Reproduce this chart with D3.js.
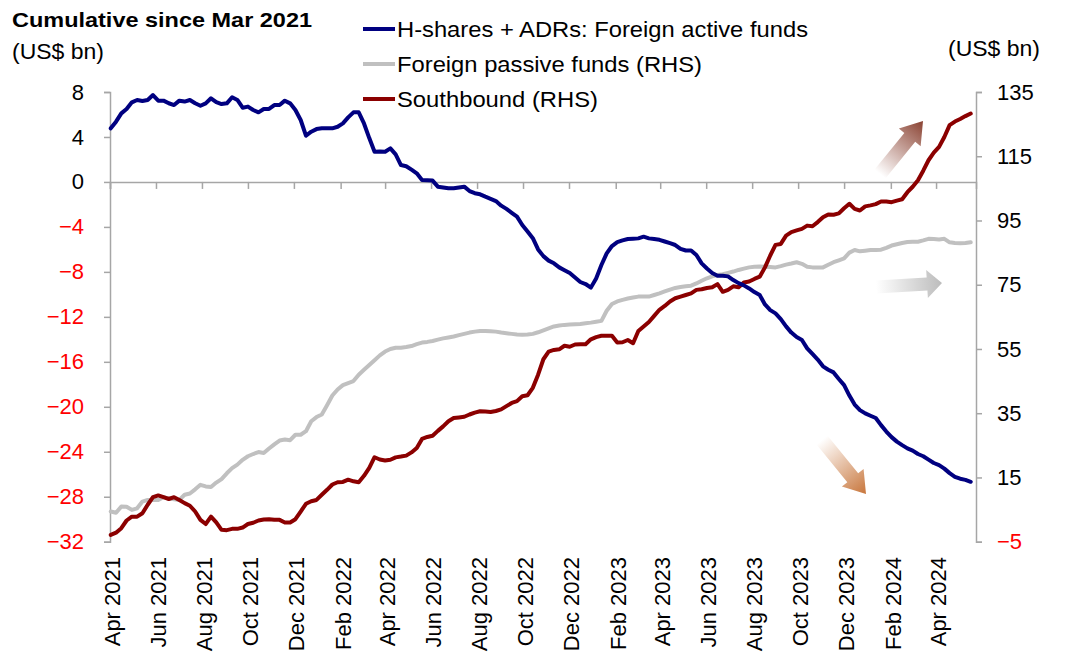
<!DOCTYPE html>
<html>
<head>
<meta charset="utf-8">
<script src="https://cdn.jsdelivr.net/npm/d3@7"></script>
<style>
  html, body { margin: 0; padding: 0; background: #fff; }
  svg { display: block; font-family: "Liberation Sans", Arial, sans-serif; }
</style>
</head>
<body>
<svg id="chart" width="1080" height="663"></svg>
<script>
// ---------------- DATA ----------------
const dates = [
"2021-04-02","2021-04-09","2021-04-16","2021-04-23","2021-04-30","2021-05-07","2021-05-14","2021-05-21","2021-05-28","2021-06-04",
"2021-06-11","2021-06-18","2021-06-25","2021-07-02","2021-07-09","2021-07-16","2021-07-23","2021-07-30","2021-08-06","2021-08-13",
"2021-08-20","2021-08-27","2021-09-03","2021-09-10","2021-09-17","2021-09-24","2021-10-01","2021-10-08","2021-10-15","2021-10-22",
"2021-10-29","2021-11-05","2021-11-12","2021-11-19","2021-11-26","2021-12-03","2021-12-10","2021-12-17","2021-12-24","2021-12-31",
"2022-01-07","2022-01-14","2022-01-21","2022-01-28","2022-02-04","2022-02-11","2022-02-18","2022-02-25","2022-03-04","2022-03-11",
"2022-03-18","2022-03-25","2022-04-01","2022-04-08","2022-04-15","2022-04-22","2022-04-29","2022-05-06","2022-05-13","2022-05-20",
"2022-05-27","2022-06-03","2022-06-10","2022-06-17","2022-06-24","2022-07-01","2022-07-08","2022-07-15","2022-07-22","2022-07-29",
"2022-08-05","2022-08-12","2022-08-19","2022-08-26","2022-09-02","2022-09-09","2022-09-16","2022-09-23","2022-09-30","2022-10-07",
"2022-10-14","2022-10-21","2022-10-28","2022-11-04","2022-11-11","2022-11-18","2022-11-25","2022-12-02","2022-12-09","2022-12-16",
"2022-12-23","2022-12-30","2023-01-06","2023-01-13","2023-01-20","2023-01-27","2023-02-03","2023-02-10","2023-02-17","2023-02-24",
"2023-03-03","2023-03-10","2023-03-17","2023-03-24","2023-03-31","2023-04-07","2023-04-14","2023-04-21","2023-04-28","2023-05-05",
"2023-05-12","2023-05-19","2023-05-26","2023-06-02","2023-06-09","2023-06-16","2023-06-23","2023-06-30","2023-07-07","2023-07-14",
"2023-07-21","2023-07-28","2023-08-04","2023-08-11","2023-08-18","2023-08-25","2023-09-01","2023-09-08","2023-09-15","2023-09-22",
"2023-09-29","2023-10-06","2023-10-13","2023-10-20","2023-10-27","2023-11-03","2023-11-10","2023-11-17","2023-11-24","2023-12-01",
"2023-12-08","2023-12-15","2023-12-22","2023-12-29","2024-01-05","2024-01-12","2024-01-19","2024-01-26","2024-02-02","2024-02-09",
"2024-02-16","2024-02-23","2024-03-01","2024-03-08","2024-03-15","2024-03-22","2024-03-29","2024-04-05","2024-04-12","2024-04-19",
"2024-04-26","2024-05-03","2024-05-10","2024-05-17"
];

// H-shares + ADRs: Foreign active funds (LHS, US$ bn)
const activeFunds = [
4.77,5.36,6.1,6.49,7.08,7.29,7.2,7.29,7.73,7.23,
7.23,7.0,6.84,7.23,7.15,7.29,7.0,6.78,6.99,7.44,
7.1,6.93,6.99,7.53,7.29,6.6,6.7,6.4,6.19,6.49,
6.49,6.84,6.84,7.23,6.99,6.4,5.51,4.11,4.47,4.7,
4.77,4.77,4.77,4.91,5.21,5.74,6.19,6.19,5.2,3.9,
2.69,2.7,2.69,2.99,2.45,1.5,1.4,1.1,0.77,0.18,
0.15,0.12,-0.42,-0.5,-0.57,-0.57,-0.5,-0.42,-0.81,-1.0,
-1.1,-1.31,-1.5,-1.7,-2.11,-2.4,-2.75,-3.09,-3.83,-4.4,
-5.0,-6.0,-6.6,-7.0,-7.24,-7.6,-7.85,-8.1,-8.5,-8.9,
-9.08,-9.4,-8.58,-7.39,-6.35,-5.7,-5.35,-5.2,-5.08,-5.05,
-5.02,-4.87,-5.02,-5.08,-5.15,-5.3,-5.45,-5.61,-5.95,-6.1,
-6.1,-6.5,-7.24,-7.7,-8.1,-8.34,-8.35,-8.4,-8.73,-9.0,
-9.2,-9.47,-9.8,-10.06,-10.9,-11.4,-11.69,-12.2,-12.85,-13.4,
-13.8,-14.06,-14.8,-15.3,-15.8,-16.4,-16.7,-16.94,-17.53,-18.07,
-19.0,-19.8,-20.3,-20.59,-20.8,-21.0,-21.63,-22.2,-22.7,-23.1,
-23.41,-23.7,-23.9,-24.2,-24.4,-24.7,-25.0,-25.19,-25.5,-25.9,
-26.23,-26.4,-26.5,-26.67
];

// Foreign passive funds (RHS, US$ bn)
const passiveFunds = [
4.4,4.0,5.94,5.9,4.9,5.4,7.5,8.0,8.0,8.0,
8.85,8.5,8.2,8.0,9.6,10.0,11.3,12.7,12.2,12.0,
13.4,14.5,16.3,17.9,19.0,20.5,21.6,22.3,22.9,22.6,
24.0,25.3,26.5,26.8,26.6,28.3,28.3,29.4,32.5,33.8,
34.6,37.5,40.5,42.4,43.75,44.4,45.0,47.0,48.5,50.0,
51.5,53.0,54.2,55.0,55.4,55.4,55.6,55.9,56.5,57.0,
57.2,57.5,57.9,58.3,58.6,58.9,59.3,59.7,60.1,60.4,
60.6,60.6,60.5,60.4,60.1,59.9,59.7,59.5,59.4,59.5,
59.7,60.2,60.8,61.4,62.0,62.3,62.5,62.6,62.7,62.8,
63.0,63.2,63.5,63.75,66.9,69.0,69.8,70.3,70.7,71.0,
71.3,71.3,71.3,71.8,72.3,72.9,73.5,74.0,74.3,74.5,
74.7,75.4,76.25,77.0,77.6,78.0,78.3,78.7,79.1,79.6,
80.0,80.4,80.6,80.7,80.6,80.5,80.4,80.8,81.25,81.6,
82.0,81.5,80.6,80.4,80.4,80.4,81.2,82.0,82.6,83.2,
85.0,85.8,85.4,85.6,85.8,85.8,85.9,86.5,87.2,87.6,
88.0,88.3,88.4,88.4,88.8,89.3,89.2,89.1,89.3,88.2,
88.0,87.9,88.0,88.2
];

// Southbound (RHS, US$ bn)
const southbound = [
-2.9,-2.2,-0.8,1.6,2.8,2.8,3.85,6.5,8.85,9.4,
8.85,8.3,8.85,8.0,7.0,6.2,4.4,1.8,0.5,2.8,
1.0,-1.3,-1.4,-1.0,-1.0,-0.6,0.5,0.9,1.6,1.9,
2.0,1.8,1.8,1.0,1.0,2.0,4.4,6.8,7.6,8.0,
9.6,11.15,12.8,13.5,13.6,14.3,13.8,13.5,15.5,18.0,
21.3,20.6,20.3,20.5,21.25,21.5,21.8,22.8,24.2,27.0,
27.6,28.0,29.5,30.9,32.5,33.5,33.7,33.9,34.6,35.2,
35.6,35.5,35.4,35.7,36.2,37.2,38.2,38.75,40.3,40.6,
42.9,47.0,51.8,54.2,54.7,54.9,56.0,55.7,56.4,56.5,
56.5,58.0,58.7,59.1,59.1,59.1,57.0,57.1,57.8,56.8,
60.6,62.0,63.4,65.3,67.2,68.4,69.8,70.8,71.3,71.8,
72.3,73.4,73.6,74.0,74.2,75.2,72.8,73.4,74.5,74.2,
75.7,76.0,76.8,77.5,80.4,84.1,87.4,87.7,90.3,91.4,
91.9,92.4,93.4,93.2,94.5,96.0,96.9,96.8,97.2,98.8,
100.2,98.6,98.1,99.4,99.7,100.1,100.9,100.9,100.7,101.2,
101.6,103.8,105.5,107.5,110.5,113.75,116.1,117.9,121.0,124.7,
125.8,126.6,127.5,128.3
];

const xTickDates = ["2021-04-01","2021-06-01","2021-08-01","2021-10-01","2021-12-01","2022-02-01","2022-04-01","2022-06-01",
"2022-08-01","2022-10-01","2022-12-01","2023-02-01","2023-04-01","2023-06-01","2023-08-01","2023-10-01","2023-12-01",
"2024-02-01","2024-04-01"];
const leftTicks = [8, 4, 0, -4, -8, -12, -16, -20, -24, -28, -32];
const rightTicks = [135, 115, 95, 75, 55, 35, 15, -5];
const xDomain = ["2021-04-01", "2024-05-24"];

const seriesNames = ["H-shares + ADRs: Foreign active funds", "Foreign passive funds (RHS)", "Southbound (RHS)"];
const seriesColors = ["#000080", "#c0c0c0", "#8b0000"];

// ---------------- CHART ----------------
const parse = d3.timeParse("%Y-%m-%d");
const fmt = d3.timeFormat("%b %Y");
const svg = d3.select("#chart");

const X0 = 110, X1 = 976, YT = 92, YB = 541.7;
const x = d3.scaleTime().domain(xDomain.map(parse)).range([X0, X1]);
const yL = d3.scaleLinear().domain([-32, 8]).range([YB, YT]);
const yR = d3.scaleLinear().domain([-5, 135]).range([YB, YT]);

const axisColor = "#a6a6a6";
const fontSize = 22;

// Left axis
const gL = svg.append("g").attr("transform", `translate(${X0},0)`)
  .call(d3.axisLeft(yL).tickValues(leftTicks).tickSize(6).tickPadding(20).tickFormat(d3.format("d")));
gL.select(".domain").attr("stroke", axisColor).attr("stroke-width", 1.5);
gL.selectAll(".tick line").attr("stroke", axisColor).attr("stroke-width", 1.5);
gL.selectAll(".tick text").attr("font-size", fontSize).attr("font-family", "Liberation Sans, Arial, sans-serif")
  .attr("fill", d => d < 0 ? "#ff0000" : "#000");

// Right axis
const gR = svg.append("g").attr("transform", `translate(${X1},0)`)
  .call(d3.axisRight(yR).tickValues(rightTicks).tickSize(6).tickPadding(15).tickFormat(d3.format("d")));
gR.select(".domain").attr("stroke", axisColor).attr("stroke-width", 1.5);
gR.selectAll(".tick line").attr("stroke", axisColor).attr("stroke-width", 1.5);
gR.selectAll(".tick text").attr("font-size", fontSize).attr("font-family", "Liberation Sans, Arial, sans-serif")
  .attr("fill", d => d < 0 ? "#ff0000" : "#000");

// Zero line with month ticks
const gX = svg.append("g").attr("transform", `translate(0,${yL(0)})`)
  .call(d3.axisBottom(x).tickValues(xTickDates.map(parse)).tickSize(7).tickFormat(""));
gX.select(".domain").attr("stroke", axisColor).attr("stroke-width", 1.5);
gX.selectAll(".tick line").attr("stroke", axisColor).attr("stroke-width", 1.5);

// Bottom rotated date labels
svg.append("g").selectAll("text").data(xTickDates.map(parse)).join("text")
  .attr("transform", d => `translate(${x(d)},557) rotate(-90)`)
  .attr("text-anchor", "end")
  .attr("dy", "0.45em")
  .attr("font-size", fontSize)
  .attr("fill", "#000")
  .text(d => fmt(d));

// Arrows (decorative annotations)
const defs = svg.append("defs");
function arrow(id, color, tail, tip, shaftHW, headLen, headHW) {
  const g = defs.append("linearGradient").attr("id", id)
    .attr("x1", 0).attr("y1", 0).attr("x2", 1).attr("y2", 0);
  g.append("stop").attr("offset", "0%").attr("stop-color", color).attr("stop-opacity", 0);
  g.append("stop").attr("offset", "100%").attr("stop-color", color).attr("stop-opacity", 1);
  const dx = tip[0] - tail[0], dy = tip[1] - tail[1];
  const L = Math.hypot(dx, dy), ang = Math.atan2(dy, dx) * 180 / Math.PI;
  const s = L - headLen;
  const pts = [[0, -shaftHW], [s, -shaftHW], [s, -headHW], [L, 0], [s, headHW], [s, shaftHW], [0, shaftHW]];
  svg.append("path")
    .attr("d", "M" + pts.map(p => p.join(",")).join("L") + "Z")
    .attr("fill", `url(#${id})`)
    .attr("transform", `translate(${tail[0]},${tail[1]}) rotate(${ang})`);
}
arrow("gUp", "#8a4232", [880, 174], [923, 121], 7, 21, 14);
arrow("gRight", "#bcbcbc", [876, 287], [942, 283], 6.5, 15, 14);
arrow("gDown", "#c8763c", [822, 440], [866, 494], 7, 21, 14);

// Lines
const rows = dates.map((d, i) => ({ date: parse(d), a: activeFunds[i], p: passiveFunds[i], s: southbound[i] }));
const lineStyle = sel => sel.attr("fill", "none").attr("stroke-width", 4).attr("stroke-linejoin", "round").attr("stroke-linecap", "round");
svg.append("path").datum(rows).call(lineStyle).attr("stroke", seriesColors[1])
  .attr("d", d3.line().x(d => x(d.date)).y(d => yR(d.p)));
svg.append("path").datum(rows).call(lineStyle).attr("stroke", seriesColors[2])
  .attr("d", d3.line().x(d => x(d.date)).y(d => yR(d.s)));
svg.append("path").datum(rows).call(lineStyle).attr("stroke", seriesColors[0])
  .attr("d", d3.line().x(d => x(d.date)).y(d => yL(d.a)));

// Titles
svg.append("text").attr("x", 12).attr("y", 27).attr("font-size", 21).attr("font-weight", "bold")
  .attr("textLength", 300).attr("lengthAdjust", "spacingAndGlyphs")
  .attr("fill", "#000").text("Cumulative since Mar 2021");
svg.append("text").attr("x", 12).attr("y", 59).attr("font-size", 22).attr("fill", "#000")
  .attr("textLength", 92).attr("lengthAdjust", "spacingAndGlyphs").text("(US$ bn)");
svg.append("text").attr("x", 948).attr("y", 56).attr("font-size", 22).attr("fill", "#000")
  .attr("textLength", 92).attr("lengthAdjust", "spacingAndGlyphs").text("(US$ bn)");

// Legend
const legendWidths = [411, 305, 201];
const leg = svg.append("g").selectAll("g").data(seriesNames).join("g")
  .attr("transform", (d, i) => `translate(363,${29 + i * 35})`);
leg.append("line").attr("x1", 0).attr("x2", 32).attr("y1", 0).attr("y2", 0)
  .attr("stroke", (d, i) => seriesColors[i]).attr("stroke-width", 4);
leg.append("text").attr("x", 34).attr("y", 0).attr("dy", "0.36em").attr("font-size", 22).attr("fill", "#000")
  .attr("textLength", (d, i) => legendWidths[i]).attr("lengthAdjust", "spacingAndGlyphs")
  .text(d => d);
</script>
</body>
</html>
